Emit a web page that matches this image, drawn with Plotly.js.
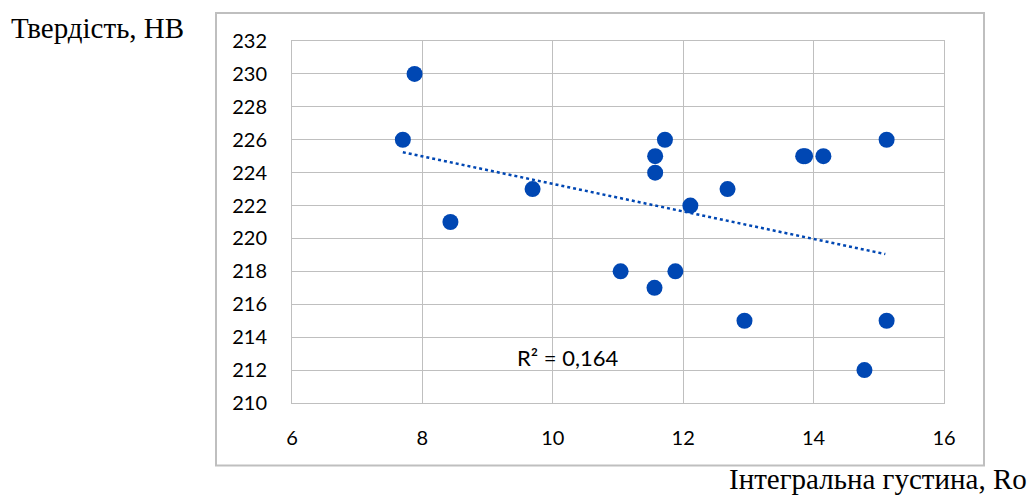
<!DOCTYPE html>
<html>
<head>
<meta charset="utf-8">
<script src="https://cdn.plot.ly/plotly-3.0.1.min.js"></script>
<style>
html,body{margin:0;padding:0;background:#fff;}
#chart{width:1032px;height:498px;}
</style>
</head>
<body>
<div id="chart"></div>
<script>
// Data
const density = [7.70, 7.88, 8.43, 9.69, 11.04, 11.56, 11.57, 11.57, 11.72, 11.88, 12.11, 12.68, 12.94, 13.84, 13.87, 14.15, 14.78, 15.12, 15.12];
const hardness = [226, 230, 221, 223, 218, 217, 225, 224, 226, 218, 222, 223, 215, 225, 225, 225, 212, 226, 215];
const trendX = [7.70, 15.10];
const trendY = [225.24, 219.05];
const r2Label = "R² = 0,164";
const yTitle = "Твердість, HB";
const xTitle = "Інтегральна густина, Ro";

const blue = "#0047b3";
const grid = "#bfbfbf";
const tickFont = {family: "Lato, 'Open Sans', sans-serif", size: 20, color: "#000"};
const titleFont = {family: "'Liberation Serif', 'DejaVu Serif', serif", size: 29, color: "#000"};

const traces = [
  {
    x: trendX, y: trendY, type: "scatter", mode: "lines",
    line: {color: blue, width: 2.5, dash: "dot"},
    hoverinfo: "skip", showlegend: false
  },
  {
    x: density, y: hardness, type: "scatter", mode: "markers",
    marker: {color: blue, size: 16, line: {width: 0}},
    showlegend: false
  }
];

const W = 1032, H = 498;
const mL = 292, mR = 88, mT = 41, mB = 95;
const pw = W - mL - mR, ph = H - mT - mB;
const px = v => (v - mL) / pw;           // pixel x -> paper x
const py = v => (H - mB - v) / ph;        // pixel y -> paper y

const layout = {
  width: W, height: H,
  margin: {l: mL, r: mR, t: mT, b: mB, pad: 0},
  paper_bgcolor: "#fff", plot_bgcolor: "#fff",
  showlegend: false,
  xaxis: {
    range: [6, 16], dtick: 2, tick0: 6,
    showgrid: true, gridcolor: grid, gridwidth: 1,
    zeroline: false, showline: true, linecolor: grid, linewidth: 1, mirror: true,
    ticks: "", tickfont: tickFont, ticklabelstandoff: 17,
    fixedrange: true
  },
  yaxis: {
    range: [210, 232], dtick: 2, tick0: 210,
    showgrid: true, gridcolor: grid, gridwidth: 1,
    zeroline: false, showline: true, linecolor: grid, linewidth: 1, mirror: true,
    ticks: "", tickfont: tickFont, ticklabelstandoff: 20,
    fixedrange: true
  },
  shapes: [
    {
      type: "rect", xref: "paper", yref: "paper",
      x0: px(216), x1: px(984), y0: py(465.5), y1: py(13),
      line: {color: grid, width: 2}, fillcolor: "rgba(0,0,0,0)", layer: "below"
    }
  ],
  annotations: [
    {
      text: r2Label, x: 10.23, y: 212.75, xref: "x", yref: "y",
      showarrow: false, xanchor: "center", yanchor: "middle",
      font: {family: "Lato, 'Open Sans', sans-serif", size: 22, color: "#000"}
    },
    {
      text: yTitle, xref: "paper", yref: "paper",
      x: px(9), y: py(28), xanchor: "left", yanchor: "middle",
      showarrow: false, font: titleFont
    },
    {
      text: xTitle, xref: "paper", yref: "paper",
      x: px(1029), y: py(497), xanchor: "right", yanchor: "bottom",
      showarrow: false, font: titleFont
    }
  ]
};

Plotly.newPlot("chart", traces, layout, {displayModeBar: false, staticPlot: true});
</script>
</body>
</html>
